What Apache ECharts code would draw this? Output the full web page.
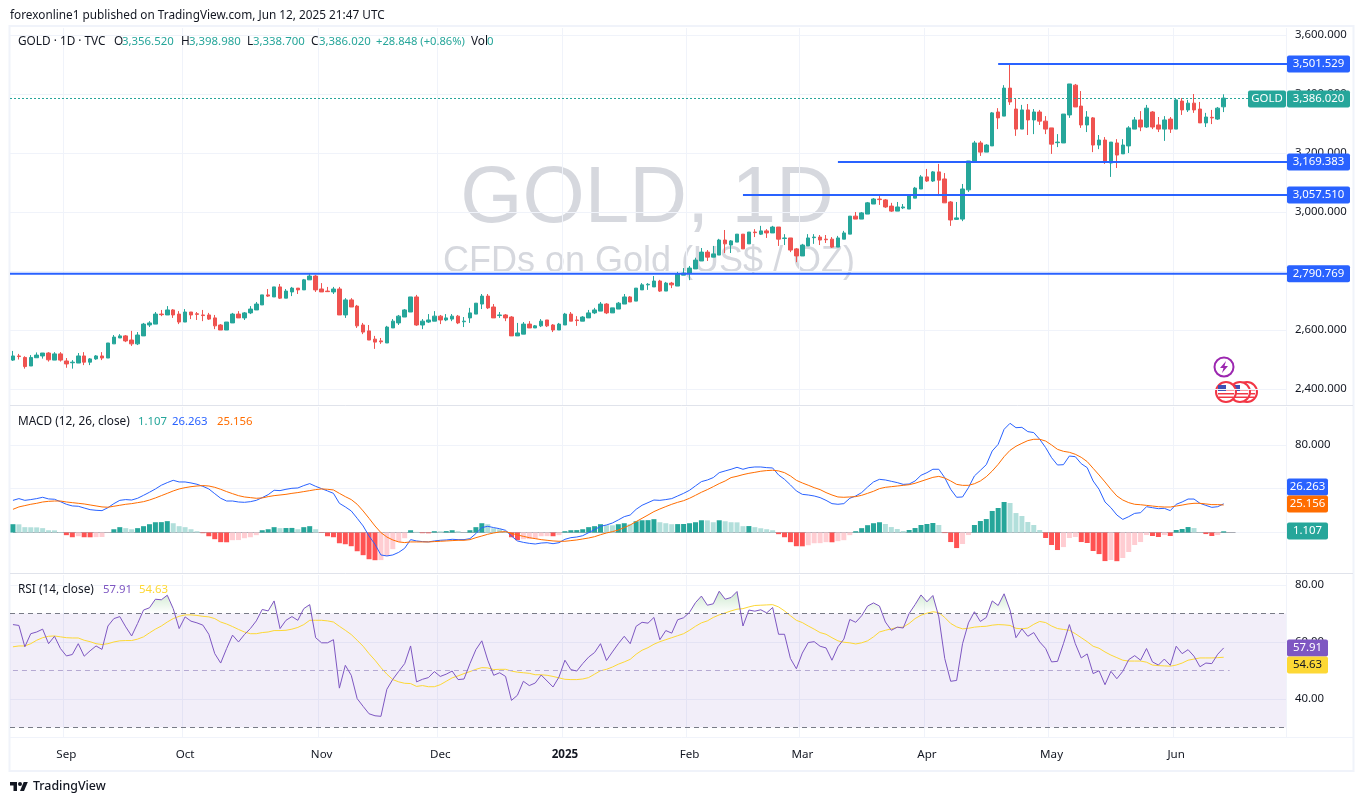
<!DOCTYPE html>
<html>
<head>
<meta charset="utf-8">
<title>GOLD 1D</title>
<style>
  html, body { margin: 0; padding: 0; background: #fff; }
  #main { width: 1364px; height: 804px; }
</style>
<script src="https://cdn.jsdelivr.net/npm/echarts@6/dist/echarts.min.js"></script>
</head>
<body>
<div id="main"></div>
<script>
// candles
const opens = [
  2498,2512,2507,2478,2506,2512,2522,2498,2519,2495,
  2489,2488,2512,2491,2502,2512,2505,2553,2573,2580,
  2566,2553,2580,2617,2620,2654,2651,2668,2654,2627,
  2661,2655,2651,2651,2641,2617,2600,2624,2654,2641,
  2658,2668,2685,2719,2712,2746,2708,2729,2742,2736,
  2770,2783,2739,2732,2729,2739,2651,2702,2681,2617,
  2597,2569,2563,2556,2607,2624,2644,2661,2712,2617,
  2627,2630,2647,2634,2637,2647,2628,2641,2654,2688,
  2715,2678,2649,2651,2644,2580,2586,2620,2607,2614,
  2634,2617,2600,2617,2654,2634,2630,2641,2658,2664,
  2688,2658,2671,2688,2712,2698,2736,2753,2746,2766,
  2732,2759,2749,2786,2793,2807,2834,2864,2847,2854,
  2905,2888,2898,2925,2892,2932,2925,2936,2929,2949,
  2910,2912,2875,2851,2885,2913,2915,2908,2908,2881,
  2908,2925,2986,2976,2993,3027,3044,3041,3020,3003,
  3014,3010,3047,3078,3119,3105,3136,3112,3034,2975,
  2976,3075,3169,3234,3203,3224,3339,3325,3420,3349,
  3281,3346,3312,3339,3308,3285,3235,3234,3329,3430,
  3359,3295,3319,3227,3244,3166,3234,3197,3224,3281,
  3312,3288,3339,3295,3281,3315,3281,3376,3346,3369,
  3349,3302,3321,3315,3356.52
]
const closes = [
  2512,2510,2476,2507,2515,2522,2499,2519,2498,2485,
  2491,2512,2491,2502,2512,2505,2556,2576,2580,2563,
  2553,2583,2620,2624,2654,2652,2668,2651,2627,2661,
  2651,2653,2649,2637,2614,2600,2627,2654,2641,2658,
  2671,2688,2719,2715,2746,2708,2732,2742,2736,2770,
  2783,2736,2729,2730,2739,2651,2702,2678,2614,2593,
  2566,2559,2560,2610,2630,2647,2668,2712,2617,2630,
  2634,2647,2634,2641,2647,2624,2630,2658,2691,2715,
  2675,2641,2651,2641,2580,2590,2620,2607,2614,2630,
  2614,2600,2620,2654,2630,2632,2644,2658,2668,2688,
  2658,2675,2691,2712,2695,2742,2753,2755,2766,2732,
  2759,2753,2790,2793,2810,2837,2864,2847,2858,2905,
  2892,2902,2925,2875,2932,2930,2936,2929,2949,2908,
  2912,2871,2851,2888,2912,2915,2905,2906,2881,2912,
  2929,2986,2976,2997,3031,3044,3042,3017,3003,3017,
  3017,3054,3081,3119,3105,3136,3108,3031,2973,2980,
  3078,3173,3234,3203,3227,3336,3319,3420,3373,3281,
  3346,3312,3339,3308,3281,3230,3237,3332,3434,3356,
  3295,3322,3227,3244,3169,3237,3193,3227,3285,3312,
  3288,3352,3288,3281,3312,3281,3380,3346,3369,3346,
  3302,3322,3319,3352,3386.02
]
const lows = [
  2495,2500,2469,2478,2506,2503,2493,2498,2493,2472,
  2469,2488,2481,2481,2499,2498,2505,2553,2573,2559,
  2546,2549,2580,2610,2620,2647,2651,2641,2620,2627,
  2637,2634,2630,2634,2603,2600,2600,2624,2641,2634,
  2654,2668,2685,2712,2712,2705,2708,2715,2722,2736,
  2770,2729,2729,2729,2722,2651,2641,2678,2607,2586,
  2566,2536,2553,2556,2607,2617,2644,2661,2614,2603,
  2624,2630,2620,2630,2630,2620,2610,2624,2654,2671,
  2671,2641,2641,2630,2580,2580,2586,2607,2607,2610,
  2610,2593,2600,2617,2630,2614,2630,2641,2654,2664,
  2654,2658,2671,2688,2695,2698,2736,2736,2746,2729,
  2732,2742,2749,2786,2769,2807,2834,2834,2847,2854,
  2861,2861,2898,2875,2892,2915,2922,2912,2929,2885,
  2888,2864,2830,2851,2885,2892,2888,2895,2878,2881,
  2908,2925,2976,2976,2993,3027,3024,3014,3000,3003,
  3010,3010,3047,3078,3102,3102,3054,3031,2953,2973,
  2969,3068,3169,3190,3203,3224,3281,3325,3363,3258,
  3281,3261,3264,3295,3264,3197,3220,3234,3319,3356,
  3285,3271,3203,3213,3163,3119,3149,3197,3200,3281,
  3274,3285,3281,3271,3241,3268,3281,3329,3339,3336,
  3302,3288,3298,3312,3338.7
]
const highs = [
  2529,2519,2511,2515,2524,2522,2525,2525,2525,2505,
  2498,2522,2525,2505,2515,2525,2556,2583,2586,2583,
  2597,2593,2624,2630,2661,2668,2681,2671,2664,2671,
  2661,2661,2668,2658,2651,2620,2627,2658,2664,2661,
  2681,2695,2719,2739,2746,2756,2739,2746,2742,2773,
  2790,2786,2759,2746,2746,2746,2708,2708,2685,2624,
  2617,2580,2573,2614,2637,2651,2671,2712,2719,2637,
  2654,2664,2651,2654,2654,2651,2644,2675,2691,2722,
  2722,2688,2661,2654,2647,2624,2627,2630,2617,2637,
  2634,2620,2624,2658,2661,2647,2647,2668,2675,2695,
  2691,2675,2695,2722,2715,2742,2759,2759,2783,2770,
  2763,2763,2797,2810,2817,2845,2878,2871,2885,2909,
  2939,2905,2925,2925,2932,2942,2953,2942,2953,2949,
  2925,2912,2878,2892,2925,2925,2922,2922,2915,2919,
  2936,2986,3000,3000,3034,3047,3054,3044,3031,3034,
  3027,3058,3085,3125,3146,3139,3163,3132,3037,3034,
  3095,3173,3241,3241,3230,3339,3352,3430,3501.5,3383,
  3363,3366,3349,3346,3325,3285,3264,3332,3434,3434,
  3410,3342,3322,3261,3254,3237,3247,3247,3291,3322,
  3342,3363,3342,3322,3325,3322,3383,3386,3380,3400,
  3373,3336,3346,3356,3398.98
]

// MACD pane
const macdLine = [
  29.4,31.0,29.4,30.1,31.0,32.2,30.7,30.4,28.2,25.8,
  24.3,24.0,22.4,20.9,20.3,20.0,22.7,26.4,29.4,30.1,
  29.7,31.3,34.0,36.8,39.8,43.2,45.6,47.7,46.2,46.2,
  45.3,44.1,42.2,39.8,35.5,31.3,28.8,28.8,27.9,27.6,
  28.2,29.4,31.9,34.6,38.6,38.3,39.5,40.4,40.7,42.9,
  44.7,42.2,40.1,38.0,35.8,26.7,23.4,19.7,13.0,6.0,
  -3.2,-10.8,-20.5,-21.4,-20.5,-18.1,-14.4,-6.5,-7.7,-8.3,
  -8.6,-7.7,-7.1,-6.8,-6.2,-6.5,-6.5,-5.6,-1.0,4.5,
  5.7,4.5,3.5,2.0,-3.2,-7.7,-9.0,-9.9,-10.5,-9.6,
  -9.3,-10.2,-9.3,-6.2,-4.7,-4.1,-2.9,-0.1,2.6,5.7,
  6.9,8.7,11.5,14.5,16.0,21.2,24.9,27.3,29.7,29.4,
  30.1,31.0,33.4,35.8,38.6,42.6,46.5,48.0,50.2,54.7,
  56.3,57.8,59.6,57.8,59.3,59.9,59.9,59.3,59.0,52.6,
  48.6,43.5,38.0,34.9,34.3,33.4,31.9,29.4,26.4,25.8,
  26.4,31.3,33.4,36.5,41.6,46.2,48.6,48.0,46.8,45.6,
  44.0,44.3,47.1,52.3,54.7,57.8,57.8,50.1,39.5,32.2,
  32.5,41.0,51.7,56.8,62.0,74.5,80.6,94.3,99.8,95.8,
  96.1,92.2,91.3,85.2,77.6,68.4,61.7,62.0,69.9,69.3,
  62.9,59.3,47.1,39.5,27.9,22.7,16.0,12.0,14.5,17.5,
  18.1,23.6,22.7,21.8,22.1,20.0,25.8,27.9,30.6,30.6,
  26.7,24.8,23.0,23.6,26.263
]
const signalLine = [
  21.2,23.4,24.6,25.8,26.7,27.9,28.5,28.8,28.8,27.9,
  27.3,26.7,26.1,25.2,24.3,23.4,23.1,24.0,24.9,25.8,
  26.4,27.3,28.2,29.7,31.6,33.7,35.8,38.0,39.8,41.0,
  41.9,42.5,42.9,42.5,41.3,39.5,37.4,35.5,33.7,32.5,
  31.9,31.3,31.6,32.8,33.7,34.3,34.9,35.8,36.5,37.4,
  38.3,39.2,39.8,39.5,38.9,35.8,32.8,30.1,25.8,19.7,
  13.0,6.0,-0.1,-4.1,-6.8,-8.6,-9.2,-8.6,-8.6,-8.6,
  -8.6,-8.3,-8.0,-7.7,-7.4,-7.1,-7.1,-6.5,-4.7,-3.2,
  -1.6,-0.4,0.5,0.8,-0.7,-2.2,-3.5,-4.7,-5.6,-6.5,
  -7.1,-7.7,-8.0,-8.0,-7.4,-6.8,-5.9,-5.0,-3.8,-2.0,
  -0.4,0.8,2.3,4.5,6.9,10.0,13.0,16.0,19.1,21.5,
  23.7,25.8,27.6,29.1,31.3,34.0,36.8,39.2,41.9,44.7,
  47.1,50.2,51.4,52.9,54.1,55.0,56.0,56.6,56.9,56.3,
  54.7,51.7,47.7,45.3,43.2,41.0,39.2,36.5,34.3,32.5,
  32.2,32.5,32.8,34.0,35.8,37.7,40.1,41.3,41.9,42.5,
  43.1,43.7,45.0,46.8,48.6,50.4,51.3,49.8,47.1,44.0,
  43.1,43.1,44.6,47.1,51.0,56.2,62.3,69.3,75.1,78.8,
  81.5,84.0,85.2,85.2,83.6,80.0,76.0,74.2,73.3,71.5,
  68.7,64.8,58.7,52.6,46.2,39.5,33.4,29.7,27.3,25.8,
  25.4,24.8,24.2,23.6,23.3,23.3,24.2,25.1,26.1,26.7,
  26.7,26.1,25.5,25.5,25.156
]
const histValues = [
  7.6,7.5,4.9,4.8,4.7,4.0,2.1,2.0,0.5,-2.4,
  -4.3,-3.4,-4.3,-4.35,-4.2,-4.1,-0.2,3.0,4.9,4.0,
  3.0,4.0,5.8,7.6,9.4,9.5,10.4,8.5,5.8,4.9,
  3.0,1.2,-0.6,-3.4,-6.1,-8.8,-8.9,-7.0,-6.9,-5.2,
  -4.3,-2.4,2.1,3.0,4.9,4.0,4.1,4.2,3.0,4.9,
  5.8,3.0,-0.3,-3.4,-4.3,-9.8,-10.7,-12.5,-17.1,-20.7,
  -24.4,-25.3,-25.2,-21.6,-15.2,-8.8,-5.2,2.1,0.6,-0.6,
  -0.7,1.2,1.1,1.3,2.1,1.2,0.1,2.1,4.9,8.5,
  7.6,3.9,3.0,1.2,-4.3,-7.0,-6.1,-6.0,-5.9,-3.4,
  -3.3,-3.4,-2.4,1.2,2.1,2.2,3.0,4.9,5.8,7.6,
  6.7,6.6,7.6,8.5,7.6,10.3,11.2,11.3,12.2,9.4,
  8.5,7.6,7.7,7.8,8.5,9.4,11.2,11.1,9.4,11.2,
  10.3,9.4,9.3,5.8,5.9,4.9,3.9,3.0,2.1,-1.5,
  -4.3,-8.8,-12.5,-12.6,-11.6,-9.8,-9.7,-8.8,-8.9,-7.9,
  -7.0,-2.4,1.2,4.0,6.7,8.5,9.4,7.8,5.0,3.2,
  1.4,2.3,4.1,6.9,7.8,8.7,6.9,-0.5,-8.7,-14.2,
  -10.5,-2.3,6.9,10.5,12.3,19.7,22.4,27.9,27.0,17.8,
  15.1,9.6,6.9,2.3,-5.0,-11.4,-16.0,-13.3,-5.0,-4.1,
  -8.7,-9.6,-16.9,-19.7,-26.1,-25.1,-26.2,-23.3,-17.8,-11.4,
  -8.7,-2.3,-3.2,-4.1,-2.3,-3.2,2.3,3.2,5.0,4.1,
  0.3,-1.4,-3.2,-2.3,1.107
]

// RSI pane
const rsiLine = [
  66.1,65.8,58.3,62.9,63.5,64.5,59.4,62.0,57.7,55.1,
  55.6,59.4,55.0,56.9,58.6,57.4,65.6,68.2,68.9,65.3,
  62.1,66.5,71.2,72.0,75.0,74.8,76.4,71.7,64.7,68.8,
  67.3,66.7,65.9,62.7,55.9,52.6,57.7,62.4,60.0,62.6,
  64.7,67.4,71.4,70.9,74.4,64.7,67.6,68.9,67.6,71.7,
  73.1,61.5,59.7,59.7,60.8,43.8,51.8,48.3,40.1,37.4,
  34.8,34.1,33.9,43.4,46.9,49.7,52.4,58.6,46.0,46.9,
  47.5,49.6,47.9,48.7,49.8,46.8,47.0,52.4,57.3,60.4,
  53.6,48.3,49.2,47.9,39.5,41.3,46.2,44.7,45.6,48.4,
  46.3,44.2,47.7,53.6,50.3,49.8,52.4,54.7,56.3,59.4,
  53.5,56.5,59.4,62.0,59.4,65.5,66.9,66.6,68.6,60.8,
  64.0,63.1,67.8,68.5,70.4,73.8,76.1,72.9,73.4,77.8,
  75.0,75.6,77.7,65.6,71.2,70.8,71.3,70.2,72.1,62.7,
  62.7,54.2,50.6,56.1,59.8,60.1,58.5,57.9,53.6,58.3,
  61.0,67.9,66.9,69.2,72.6,73.7,72.6,67.0,64.1,65.2,
  64.9,70.0,73.1,76.5,74.1,76.3,68.8,54.2,46.2,46.5,
  59.4,66.7,70.6,67.2,68.6,74.4,72.8,76.9,71.2,61.5,
  64.6,62.0,63.3,60.0,57.7,53.0,53.2,59.4,66.1,59.4,
  54.4,55.8,48.9,49.9,45.0,49.7,47.1,49.7,53.8,55.2,
  53.6,57.7,53.0,51.9,54.0,51.8,58.5,55.9,57.3,55.0,
  51.3,52.6,52.4,55.7,57.91
]
const rsiMa = [
  58.3,58.6,58.6,59.4,60.6,61.5,62.0,62.1,61.8,61.5,
  61.4,61.4,60.6,60.1,59.4,59.1,59.4,60.0,60.4,60.5,
  60.5,61.0,61.8,63.2,64.5,65.6,67.0,68.2,69.0,69.5,
  69.5,69.3,69.0,68.8,68.2,67.0,66.3,65.4,64.4,63.5,
  62.9,62.9,63.3,63.5,64.0,64.0,64.1,64.5,65.1,66.1,
  67.6,67.6,67.6,67.4,67.0,65.5,64.1,62.6,60.6,58.5,
  55.9,53.6,51.0,48.7,46.8,46.0,45.5,45.4,44.4,44.7,
  44.3,44.3,45.0,46.2,47.4,48.1,48.9,49.6,50.4,51.0,
  50.9,50.3,50.4,50.4,49.8,49.4,49.2,49.0,48.5,48.5,
  48.3,47.9,47.4,46.9,46.8,46.8,47.0,47.5,48.7,49.9,
  50.4,51.2,52.2,53.0,53.9,55.7,57.1,58.0,59.2,60.1,
  60.8,61.5,62.2,62.9,64.1,65.5,66.7,67.4,68.6,69.5,
  70.2,70.9,71.5,71.7,72.3,72.8,72.9,73.0,73.1,72.3,
  70.9,69.2,67.6,66.8,65.6,64.5,63.3,62.7,61.5,60.4,
  59.9,59.7,59.3,59.7,60.4,61.8,63.5,64.1,64.6,65.1,
  65.2,66.5,68.2,69.4,70.1,70.6,70.3,68.6,66.5,65.3,
  64.6,64.8,65.2,65.4,65.5,65.9,66.1,66.0,65.8,64.8,
  64.6,64.9,66.2,67.2,66.8,65.6,64.7,64.4,64.1,62.9,
  61.5,60.1,58.5,57.8,56.5,55.4,54.5,53.6,53.3,53.3,
  53.3,52.9,51.9,51.7,51.6,51.5,51.9,52.6,53.6,54.0,
  54.4,54.4,54.4,54.5,54.63
]

// axis ticks
const monthBars = [9, 29, 52, 72, 93, 114, 133, 154, 175, 196]
const monthLabels = ['Sep', 'Oct', 'Nov', 'Dec', '2025', 'Feb', 'Mar', 'Apr', 'May', 'Jun']
const priceTicks = [2400, 2600, 2800, 3000, 3200, 3400, 3600]
const macdTicks = [0, 40, 80]
const macdLabelTicks = [80]
const rsiTicks = [40, 60, 80]

// horizontal levels drawn on the price pane: [first bar, price]
const levels = [[166, 3501.529], [139, 3169.383], [123, 3057.51], [0, 2790.769]]
const lastClose = 3386.02

const FONT = '"Noto Sans", sans-serif'
const TEXT = '#131722'
const GREEN = '#26a69a'
const RED = '#ef5350'
const GRID_LINE = '#f0f3fa'

// the axis runs on past the last bar, empty room on the right
const slots = 215
const categories = []
for (let i = 0; i < slots; i++) {
    let m = monthBars.indexOf(i)
    categories.push(m >= 0 ? monthLabels[m] : 'bar' + i)
}
const isMonth = idx => monthBars.includes(idx)

let candles = opens.map((o, i) => [o, closes[i], lows[i], highs[i]])

function histColor(i) {
    let v = histValues[i]
    let rising = i === 0 || v > histValues[i - 1]
    if (v >= 0) return rising ? GREEN : '#b2dfdb'
    return rising ? '#ffcdd2' : '#ff5252'
}

function xAxisFor(gridIndex, showLabels) {
    return {
        type: 'category',
        gridIndex,
        data: categories,
        axisLine: { show: false },
        axisTick: { show: false },
        splitLine: { show: true, interval: isMonth, lineStyle: { color: GRID_LINE, width: 1 } },
        axisLabel: {
            show: showLabels,
            interval: isMonth,
            margin: 11,
            color: TEXT,
            fontFamily: FONT,
            fontSize: 11.6,
            formatter: v => v === '2025' ? '{b|2025}' : v,
            rich: { b: { fontWeight: 'bold', fontSize: 11.6, fontFamily: FONT, color: TEXT } }
        }
    }
}

function yAxisFor(gridIndex, min, max, ticks, labelTicks, format) {
    return {
        type: 'value',
        gridIndex,
        position: 'right',
        min,
        max,
        axisLine: { show: false },
        axisTick: { show: false, customValues: ticks },
        splitLine: { show: true, lineStyle: { color: GRID_LINE, width: 1 } },
        axisLabel: {
            customValues: labelTicks,
            margin: 9,
            color: TEXT,
            fontFamily: FONT,
            fontSize: 11.4,
            formatter: format
        }
    }
}

const fmt3 = v => v.toLocaleString('en-US', { minimumFractionDigits: 3, maximumFractionDigits: 3 })
const fmt2 = v => v.toFixed(2)

function priceTag(x, y, w, text, fill) {
    return {
        type: 'rect',
        shape: { x, y: y - 8.5, width: w, height: 17, r: 2 },
        style: { fill },
        textContent: { type: 'text', style: { text, fill: '#fff', font: '11.4px ' + FONT } },
        textConfig: { position: 'inside' }
    }
}

function renderLevel(params, api) {
    let grid = params.coordSys
    let start = api.value(0)
    let price = api.value(1)
    let p = api.coord([start, price])
    let x0 = start === 0 ? grid.x : p[0]
    return {
        type: 'group',
        children: [
            { type: 'line', shape: { x1: x0, y1: p[1], x2: grid.x + grid.width + 1, y2: p[1] }, style: { stroke: '#2962ff', lineWidth: 2 } },
            priceTag(grid.x + grid.width + 1, p[1], 63, fmt3(price), '#2962ff')
        ]
    }
}

function renderLastPrice(params, api) {
    let grid = params.coordSys
    let p = api.coord([0, api.value(1)])
    let right = grid.x + grid.width
    let y = Math.round(p[1]) + 0.5
    return {
        type: 'group',
        children: [
            { type: 'line', shape: { x1: grid.x, y1: y, x2: right - 38, y2: y }, style: { stroke: GREEN, lineWidth: 1, lineDash: [2, 2] } },
            priceTag(right - 38, p[1] + 1, 38, 'GOLD', GREEN),
            priceTag(right + 1, p[1] + 1, 63, fmt3(api.value(1)), GREEN)
        ]
    }
}

function label(x, y, text, color, size, weight) {
    return {
        type: 'text',
        x, y: y + 1,
        z: 20,
        style: { text, fill: color || TEXT, font: (weight || 'normal') + ' ' + (size || 11.8) + 'px ' + FONT, textVerticalAlign: 'middle' }
    }
}

function paneTag(y, text, fill, color) {
    return {
        type: 'group',
        z: 20,
        children: [
            { type: 'rect', z: 20, shape: { x: 1287, y: y - 8.5, width: 41, height: 17, r: 2 }, style: { fill } },
            { type: 'text', z: 21, x: 1307.5, y, style: { text, fill: color || '#fff', font: '11.4px ' + FONT, textAlign: 'center', textVerticalAlign: 'middle' } }
        ]
    }
}

function flag(cx, cy) {
    return {
        type: 'group',
        z: 21,
        children: [
            { type: 'circle', shape: { cx, cy, r: 10 }, style: { fill: '#fff', stroke: '#f23645', lineWidth: 2 } },
            { type: 'rect', shape: { x: cx - 8, y: cy - 3, width: 16, height: 1.5 }, style: { fill: '#f23645' } },
            { type: 'rect', shape: { x: cx - 8, y: cy + 1, width: 16, height: 1.5 }, style: { fill: '#f23645' } },
            { type: 'rect', shape: { x: cx - 7, y: cy + 4.5, width: 14, height: 1.5 }, style: { fill: '#f23645' } },
            { type: 'rect', shape: { x: cx - 8, y: cy - 7, width: 8, height: 6 }, style: { fill: '#3f51b5' } }
        ]
    }
}

let graphics = [
    // watermark
    { type: 'text', x: 647, y: 200, z: 0, style: { text: 'GOLD, 1D', fill: '#d6d8de', font: '80px "Liberation Sans"', textAlign: 'center', textVerticalAlign: 'middle' } },
    { type: 'text', x: 649, y: 262, z: 0, style: { text: 'CFDs on Gold (US$ / OZ)', fill: '#d6d8de', font: '36px "Liberation Sans"', textAlign: 'center', textVerticalAlign: 'middle' } },

    // frame and pane separators
    { type: 'rect', z: 1, shape: { x: 9.5, y: 26, width: 1344, height: 745 }, style: { fill: 'none', stroke: GRID_LINE, lineWidth: 2 } },
    { type: 'line', z: 1, shape: { x1: 10, y1: 405.5, x2: 1353, y2: 405.5 }, style: { stroke: '#e0e3eb' } },
    { type: 'line', z: 1, shape: { x1: 10, y1: 573.5, x2: 1353, y2: 573.5 }, style: { stroke: '#e0e3eb' } },
    { type: 'line', z: 1, shape: { x1: 10, y1: 737.5, x2: 1353, y2: 737.5 }, style: { stroke: GRID_LINE } },

    // headline
    label(10, 15, 'forexonline1 published on TradingView.com, Jun 12, 2025 21:47 UTC'),
    label(18, 41, 'GOLD · 1D · TVC'),
    label(114, 41, 'O'), label(122, 41, '3,356.520', GREEN, 11.4),
    label(181, 41, 'H'), label(189, 41, '3,398.980', GREEN, 11.4),
    label(247, 41, 'L'), label(253, 41, '3,338.700', GREEN, 11.4),
    label(311, 41, 'C'), label(319, 41, '3,386.020', GREEN, 11.4),
    label(376, 41, '+28.848 (+0.86%)', GREEN, 11.2),
    label(471, 41, 'Vol'), label(487, 41, '0', GREEN, 11.4),

    // pane legends
    label(18, 421, 'MACD (12, 26, close)'),
    label(138, 421, '1.107', GREEN, 11.4),
    label(172, 421, '26.263', '#2962ff', 11.4),
    label(217, 421, '25.156', '#ff6d00', 11.4),
    label(18, 589, 'RSI (14, close)'),
    label(103, 589, '57.91', '#7e57c2', 11.4),
    label(139, 589, '54.63', '#fdd835', 11.4),

    // value tags of the lower panes
    paneTag(487, '26.263', '#2962ff'),
    paneTag(504, '25.156', '#ff6d00'),
    paneTag(531, '1.107', GREEN),
    paneTag(648, '57.91', '#7e57c2'),
    paneTag(665, '54.63', '#fdd835', TEXT),

    // event icons
    {
        type: 'group', z: 21, children: [
            { type: 'circle', shape: { cx: 1224, cy: 367, r: 9.5 }, style: { fill: '#fff', stroke: '#9c27b0', lineWidth: 2 } },
            { type: 'polygon', shape: { points: [[1226, 361], [1220, 368], [1223.5, 368], [1222, 373], [1228, 366], [1224.5, 366]] }, style: { fill: '#9c27b0' } }
        ]
    },
    flag(1247, 392), flag(1240, 392), flag(1226, 392),

    // brand
    {
        type: 'group', z: 21, children: [
            { type: 'polygon', shape: { points: [[10, 782], [17, 782], [17, 791], [13.5, 791], [13.5, 785.5], [10, 785.5]] }, style: { fill: TEXT } },
            { type: 'polygon', shape: { points: [[23.7, 782], [27.8, 782], [24, 791], [20, 791]] }, style: { fill: TEXT } },
            { type: 'circle', shape: { cx: 20, cy: 784, r: 2 }, style: { fill: TEXT } }
        ]
    },
    label(33, 785.5, 'TradingView', TEXT, 12.4, '500')
]

let option = {
    animation: false,
    backgroundColor: '#fff',
    textStyle: { fontFamily: FONT },
    axisPointer: { show: false },
    grid: [
        { left: 10, right: 78, top: 28, height: 378 },
        { left: 10, right: 78, top: 407, height: 167 },
        { left: 10, right: 78, top: 575, height: 163 }
    ],
    xAxis: [xAxisFor(0, false), xAxisFor(1, false), xAxisFor(2, true)],
    yAxis: [
        yAxisFor(0, 2342.4, 3623.7, priceTicks, priceTicks, fmt3),
        yAxisFor(1, -37.9, 114.7, macdTicks, macdLabelTicks, fmt3),
        yAxisFor(2, 26.3, 83.5, rsiTicks, rsiTicks, fmt2)
    ],
    graphic: { elements: graphics },
    series: [
        {
            type: 'candlestick',
            xAxisIndex: 0,
            yAxisIndex: 0,
            data: candles,
            barWidth: 4,
            itemStyle: { color: GREEN, color0: RED, borderColor: GREEN, borderColor0: RED, borderWidth: 1 }
        },
        {
            type: 'custom',
            xAxisIndex: 0,
            yAxisIndex: 0,
            z: 5,
            silent: true,
            data: levels,
            renderItem: renderLevel
        },
        {
            type: 'custom',
            xAxisIndex: 0,
            yAxisIndex: 0,
            z: 6,
            silent: true,
            data: [[0, lastClose]],
            renderItem: renderLastPrice
        },
        {
            type: 'bar',
            xAxisIndex: 1,
            yAxisIndex: 1,
            barWidth: 5,
            data: histValues.map((v, i) => ({ value: v, itemStyle: { color: histColor(i) } })),
            markLine: {
                silent: true,
                symbol: 'none',
                z: 1,
                label: { show: false },
                lineStyle: { color: '#a8abb3', type: 'solid', width: 1 },
                data: [[{ coord: [0, 0] }, { coord: [206, 0] }]]
            }
        },
        {
            type: 'line',
            xAxisIndex: 1,
            yAxisIndex: 1,
            data: macdLine,
            showSymbol: false,
            z: 4,
            lineStyle: { color: '#2962ff', width: 1 }
        },
        {
            type: 'line',
            xAxisIndex: 1,
            yAxisIndex: 1,
            data: signalLine,
            showSymbol: false,
            z: 5,
            lineStyle: { color: '#ff6d00', width: 1 }
        },
        // green fill where RSI runs above 70
        {
            type: 'line',
            xAxisIndex: 2,
            yAxisIndex: 2,
            stack: 'over',
            data: rsiLine.map(() => 70),
            showSymbol: false,
            lineStyle: { opacity: 0 }
        },
        {
            type: 'line',
            xAxisIndex: 2,
            yAxisIndex: 2,
            stack: 'over',
            data: rsiLine.map(v => Math.max(v - 70, 0)),
            showSymbol: false,
            lineStyle: { opacity: 0 },
            areaStyle: {
                opacity: 1,
                color: {
                    type: 'linear', x: 0, y: 0, x2: 0, y2: 1,
                    colorStops: [{ offset: 0, color: 'rgba(76,175,80,0.28)' }, { offset: 1, color: 'rgba(76,175,80,0)' }]
                }
            }
        },
        {
            type: 'line',
            xAxisIndex: 2,
            yAxisIndex: 2,
            data: rsiLine,
            showSymbol: false,
            z: 5,
            lineStyle: { color: '#7e57c2', width: 1 },
            markArea: {
                silent: true,
                itemStyle: { color: 'rgba(126,87,194,0.1)' },
                data: [[{ yAxis: 70 }, { yAxis: 30 }]]
            },
            markLine: {
                silent: true,
                symbol: 'none',
                label: { show: false },
                data: [
                    { yAxis: 70, lineStyle: { color: '#787b86', type: [5, 4], width: 1 } },
                    { yAxis: 30, lineStyle: { color: '#787b86', type: [5, 4], width: 1 } },
                    [
                        { coord: [0, 50], lineStyle: { color: '#b5a9d2', type: [5, 4], width: 1 } },
                        { coord: [205, 50] }
                    ]
                ]
            }
        },
        {
            type: 'line',
            xAxisIndex: 2,
            yAxisIndex: 2,
            data: rsiMa,
            showSymbol: false,
            z: 4,
            lineStyle: { color: '#fdd835', width: 1 }
        }
    ]
}

let myChart = echarts.init(document.getElementById('main'), null, { renderer: 'canvas' })
myChart.setOption(option)
</script>
</body>
</html>
